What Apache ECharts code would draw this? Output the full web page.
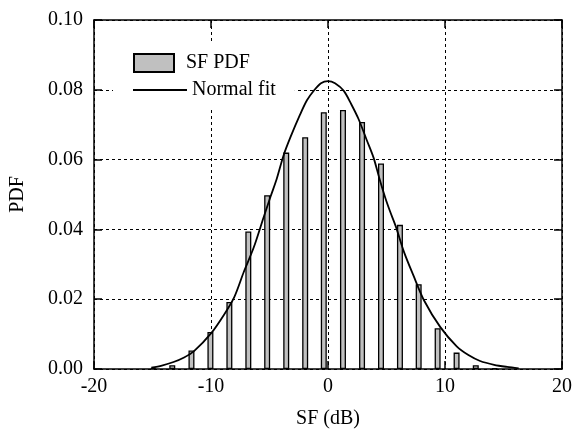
<!DOCTYPE html>
<html>
<head>
<meta charset="utf-8">
<script src="https://cdn.jsdelivr.net/npm/echarts@6/dist/echarts.min.js"></script>
<style>
html,body{margin:0;padding:0;background:#fff;}
#chart{width:575px;height:434px;}
</style>
</head>
<body>
<div id="chart"></div>
<script>
// Histogram bin centres (dB) and PDF heights
var binCenters = [-14.93, -13.31, -11.67, -10.05, -8.43, -6.81, -5.2, -3.57, -1.95, -0.36, 1.28, 2.91, 4.53, 6.15, 7.75, 9.37, 10.99, 12.63, 14.25];
var pdfValues  = [0.0003, 0.0011, 0.0053, 0.0106, 0.0192, 0.0394, 0.0498, 0.0620, 0.0664, 0.0736, 0.0742, 0.0708, 0.0589, 0.0413, 0.0243, 0.0117, 0.0047, 0.0011, 0.0002];
// Normal fit curve points
var fitX = [-15.1, -14.2, -13.2, -12.3, -11.45, -10.0, -8.9, -8.0, -7.2, -6.35, -5.5, -4.9, -4.4, -3.8, -3.2, -2.4, -1.8, -1.2, -0.6, 0.0, 0.6, 1.35, 2.0, 2.6, 3.3, 3.9, 4.4, 4.9, 5.3, 5.8, 6.5, 7.3, 8.2, 9.6, 11.0, 12.0, 13.0, 14.2, 15.3, 16.3];
var fitY = [0.0004, 0.0010, 0.0020, 0.0033, 0.0051, 0.0102, 0.0155, 0.0207, 0.0278, 0.0348, 0.0435, 0.0495, 0.0543, 0.0612, 0.0665, 0.0728, 0.0770, 0.0798, 0.0819, 0.0825, 0.0819, 0.0797, 0.0758, 0.0717, 0.0657, 0.0605, 0.0545, 0.0490, 0.0452, 0.0408, 0.0335, 0.0268, 0.0197, 0.0120, 0.0065, 0.0040, 0.0023, 0.0012, 0.0006, 0.0002];
var xTicks = {min: -20, max: 20, interval: 10};
var yTicks = {min: 0, max: 0.1, interval: 0.02};

var FONT = 'Liberation Serif';
var chart = echarts.init(document.getElementById('chart'), null, {renderer: 'canvas'});

var barData = binCenters.map(function (x, i) { return [x, pdfValues[i]]; });
var fitData = fitX.map(function (x, i) { return [x, fitY[i]]; });

var tickStyle = {show: true, inside: true, length: 8, lineStyle: {color: '#000', width: 1.5}};
var axisLineStyle = {show: true, onZero: false, lineStyle: {color: '#000', width: 1.5}};
var gridLine = {show: true, lineStyle: {color: '#000', width: 1, type: [3, 3]}};
var legendText = {fontFamily: FONT, fontSize: 20, color: '#000', lineHeight: 20};

chart.setOption({
  animation: false,
  backgroundColor: '#fff',
  grid: {left: 93, right: 13, top: 20, bottom: 61, containLabel: false},
  legend: [{
    data: [{name: 'SF PDF', icon: 'path://M0,0 L40,0 L40,18 L0,18 Z'}],
    orient: 'vertical', left: 113, top: 43,
    padding: [10, 19, 0, 20],
    itemWidth: 54, itemHeight: 18,
    backgroundColor: '#fff',
    textStyle: legendText,
    selectedMode: false
  }, {
    data: [{name: 'Normal fit', icon: 'path://M0,0 L54,0 L54,1.8 L0,1.8 Z',
            itemStyle: {color: '#000', borderWidth: 0}}],
    orient: 'vertical', left: 113, top: 70,
    padding: [10, 19, 10, 20],
    itemWidth: 54, itemHeight: 18,
    backgroundColor: '#fff',
    textStyle: legendText,
    selectedMode: false
  }],
  xAxis: [{
    type: 'value', min: xTicks.min, max: xTicks.max, interval: xTicks.interval,
    name: 'SF (dB)', nameLocation: 'middle', nameGap: 40,
    nameTextStyle: {fontFamily: FONT, fontSize: 20, color: '#000'},
    axisLine: axisLineStyle, axisTick: tickStyle,
    axisLabel: {fontFamily: FONT, fontSize: 20, color: '#000', margin: 8},
    splitLine: gridLine
  }, {
    type: 'value', position: 'top', min: xTicks.min, max: xTicks.max, interval: xTicks.interval,
    axisLine: axisLineStyle, axisTick: tickStyle, axisLabel: {show: false}, splitLine: {show: false}
  }],
  yAxis: [{
    type: 'value', min: yTicks.min, max: yTicks.max, interval: yTicks.interval,
    name: 'PDF', nameLocation: 'middle', nameGap: 66,
    nameTextStyle: {fontFamily: FONT, fontSize: 20, color: '#000'},
    axisLine: axisLineStyle, axisTick: tickStyle,
    axisLabel: {fontFamily: FONT, fontSize: 20, color: '#000', margin: 11,
      formatter: function (v) { return v.toFixed(2); }},
    splitLine: gridLine
  }, {
    type: 'value', position: 'right', min: yTicks.min, max: yTicks.max, interval: yTicks.interval,
    axisLine: axisLineStyle, axisTick: tickStyle, axisLabel: {show: false}, splitLine: {show: false}
  }],
  series: [{
    name: 'SF PDF', type: 'bar', xAxisIndex: 0, yAxisIndex: 0,
    data: barData, barWidth: 6,
    itemStyle: {color: '#c0c0c0', borderColor: '#000', borderWidth: 1.3},
    z: 2
  }, {
    name: 'Normal fit', type: 'line', xAxisIndex: 0, yAxisIndex: 0,
    data: fitData, smooth: 0.3, symbol: 'none', showSymbol: false,
    lineStyle: {color: '#000', width: 1.8},
    itemStyle: {color: '#000'},
    z: 3
  }]
});
</script>
</body>
</html>
